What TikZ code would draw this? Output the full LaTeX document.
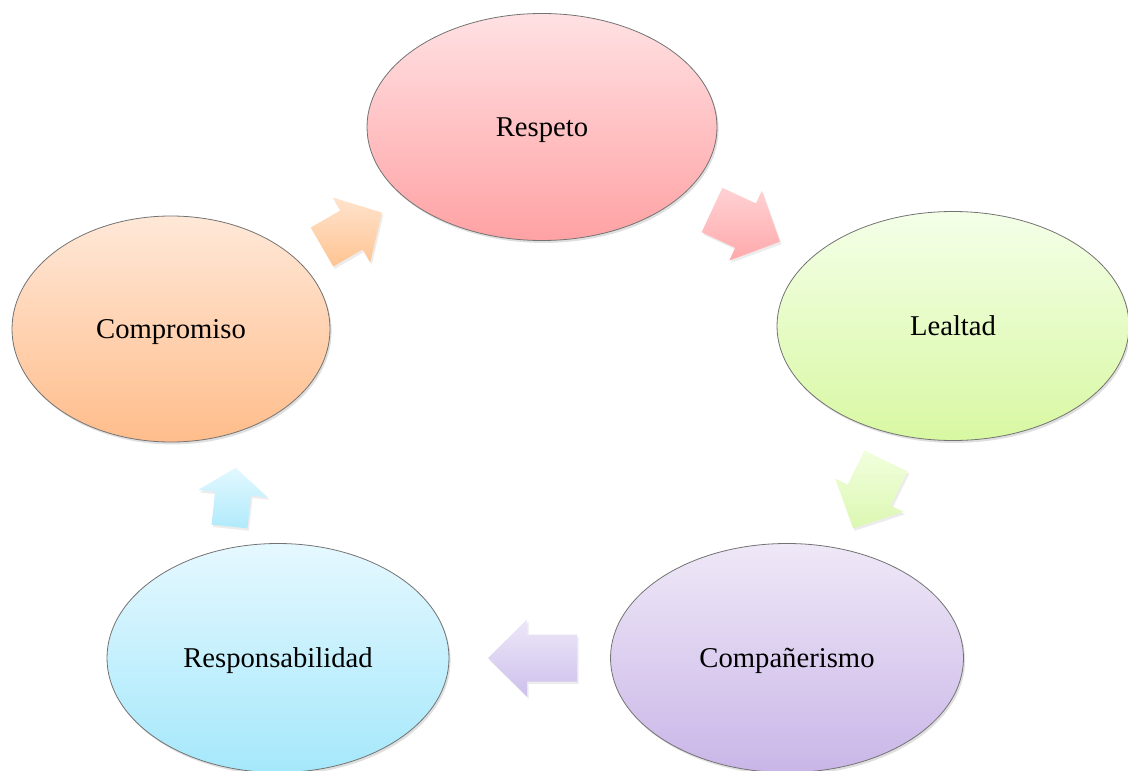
\documentclass[tikz,border=0pt]{standalone}
\usepackage{fontspec}
\setmainfont{Liberation Serif}
\usetikzlibrary{shapes.geometric,shadows}
\tikzset{
  oval/.style={ellipse, draw=black!55, line width=0.6pt, inner sep=0pt,
    font=\fontsize{21.5}{24}\selectfont, text=black, text height=14pt, text depth=0pt,
    drop shadow={opacity=0.25, shadow xshift=1.2pt, shadow yshift=-1.8pt}},
  ovalsize/.style 2 args={minimum width={#1*0.75pt}, minimum height={#2*0.75pt}},
  blockarrow/.style={draw=none,
    drop shadow={opacity=0.15, shadow xshift=1.2pt, shadow yshift=-1.8pt}}
}
% #1 length, #2 shaft half width, #3 head half width, #4 head length
\newcommand{\blockarrowpath}[4]{(0,-#2) -- ({#1-#4},-#2) -- ({#1-#4},-#3) -- (#1,0) -- ({#1-#4},#3) -- ({#1-#4},#2) -- (0,#2) -- cycle}
\definecolor{rTop}{HTML}{FFE1E3}\definecolor{rBot}{HTML}{FFA2A4}
\definecolor{lTop}{HTML}{F4FFE8}\definecolor{lBot}{HTML}{D8F8A2}
\definecolor{cTop}{HTML}{EFE8F7}\definecolor{cBot}{HTML}{C9B6E8}
\definecolor{sTop}{HTML}{E5F8FF}\definecolor{sBot}{HTML}{A5E8FB}
\definecolor{mTop}{HTML}{FFE8D8}\definecolor{mBot}{HTML}{FFBD8B}
\definecolor{a1Top}{HTML}{FFE3CC}\definecolor{a1Bot}{HTML}{FFC493}
\definecolor{a2Top}{HTML}{FFD2D4}\definecolor{a2Bot}{HTML}{FFA9AB}
\definecolor{a3Top}{HTML}{F1FFDD}\definecolor{a3Bot}{HTML}{DCF7B2}
\definecolor{a4Top}{HTML}{EDE7F8}\definecolor{a4Bot}{HTML}{CEC0EC}
\definecolor{a5Top}{HTML}{E2F8FF}\definecolor{a5Bot}{HTML}{B0EAFB}
\begin{document}
\begin{tikzpicture}[x=0.75pt,y=-0.75pt]
\useasboundingbox[fill=white] (0,0) rectangle (1128,771);
% ovals
\node[oval, top color=rTop, bottom color=rBot, ovalsize={350}{227}] (respeto) at (542,127) {Respeto};
\node[oval, top color=lTop, bottom color=lBot, ovalsize={352}{229}] (lealtad) at (953,326) {Lealtad};
\node[oval, top color=cTop, bottom color=cBot, ovalsize={353}{229}] (comp) at (787,658) {Compañerismo};
\node[oval, top color=sTop, bottom color=sBot, ovalsize={342}{229}] (resp) at (278,658) {Responsabilidad};
\node[oval, top color=mTop, bottom color=mBot, ovalsize={318}{226}] (compro) at (171,329) {Compromiso};
% block arrows
\begin{scope}[shift={(322,247)}, rotate=30]
  \path[blockarrow, top color=a1Top, bottom color=a1Bot] \blockarrowpath{69}{22.5}{37.5}{35};
\end{scope}
\begin{scope}[shift={(712,210)}, rotate=-25]
  \path[blockarrow, top color=a2Top, bottom color=a2Bot] \blockarrowpath{75}{24.5}{38.5}{38};
\end{scope}
\begin{scope}[shift={(886,461)}, rotate=-116]
  \path[blockarrow, top color=a3Top, bottom color=a3Bot] \blockarrowpath{75}{24}{38}{37};
\end{scope}
\begin{scope}[shift={(577,658)}, rotate=180]
  \path[blockarrow, top color=a4Top, bottom color=a4Bot] \blockarrowpath{89}{23.5}{38.5}{39};
\end{scope}
\begin{scope}[shift={(229.5,526.5)}, rotate=84]
  \path[blockarrow, top color=a5Top, bottom color=a5Bot] \blockarrowpath{59}{18}{35}{26};
\end{scope}
\end{tikzpicture}
\end{document}
